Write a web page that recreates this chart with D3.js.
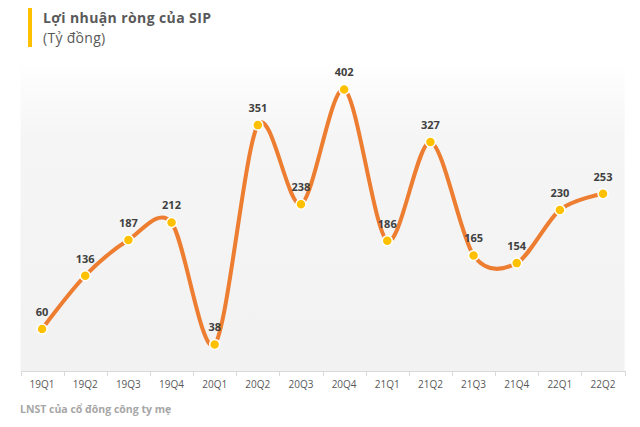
<!DOCTYPE html>
<html><head><meta charset="utf-8">
<script src="https://cdn.jsdelivr.net/npm/d3@7"></script>
<style>body{margin:0;background:#fff}svg{display:block}</style>
</head><body>
<svg id="c" width="640" height="427"></svg>
<script>
const categories = ["19Q1","19Q2","19Q3","19Q4","20Q1","20Q2","20Q3","20Q4","21Q1","21Q2","21Q3","21Q4","22Q1","22Q2"];
const values = [60,136,187,212,38,351,238,402,186,327,165,154,230,253];
const title = "Lợi nhuận ròng của SIP";
const subtitle = "(Tỷ đồng)";
const footer = "LNST của cổ đông công ty mẹ";

const svg = d3.select("#c");
const font = "'Open Sans', 'DejaVu Sans', sans-serif";
const left = 20.5, right = 624.6, yBase = 371;

const defs = svg.append("defs");
const g = defs.append("linearGradient").attr("id","bg").attr("x1",0).attr("y1",0).attr("x2",0).attr("y2",1);
g.append("stop").attr("offset","0%").attr("stop-color","#ffffff");
g.append("stop").attr("offset","25%").attr("stop-color","#f5f5f5");
g.append("stop").attr("offset","100%").attr("stop-color","#f2f2f2");

svg.append("rect").attr("x",left).attr("y",60).attr("width",right-left).attr("height",yBase-60).attr("fill","url(#bg)");

const x = d3.scaleBand().domain(categories).range([left,right]);
const y = d3.scaleLinear().domain([0,450]).range([yBase,yBase-0.7005*450]);

const ax = svg.append("g").attr("transform",`translate(0,${yBase})`)
  .call(d3.axisBottom(x).tickSize(0).tickPadding(10));
ax.select(".domain").attr("stroke","#d9d9d9");
ax.selectAll("text").attr("font-family",font).attr("font-size",10).attr("fill","#595959");
svg.append("g").selectAll("line").data(categories.concat([null])).join("line")
  .attr("x1",(d,i)=>Math.round(left+i*x.step())+0.5).attr("x2",(d,i)=>Math.round(left+i*x.step())+0.5)
  .attr("y1",yBase).attr("y2",yBase+5).attr("stroke","#d9d9d9");

const cx = d => x(d) + x.bandwidth()/2;
const pts = categories.map((c,i)=>[cx(c), y(values[i])]);

svg.append("path").attr("d", d3.line().curve(d3.curveCardinal.tension(0.1))(pts))
  .attr("fill","none").attr("stroke","#ED7D31").attr("stroke-width",4).attr("stroke-linecap","round");

svg.append("g").selectAll("circle").data(pts).join("circle")
  .attr("cx",d=>d[0]).attr("cy",d=>d[1]).attr("r",5)
  .attr("fill","#FFC000").attr("stroke","#ffffff").attr("stroke-width",1.5);

svg.append("g").selectAll("text").data(values).join("text")
  .attr("x",(d,i)=>cx(categories[i])).attr("y",d=>y(d)-13)
  .attr("text-anchor","middle").attr("font-family",font).attr("font-size",11).attr("font-weight","bold")
  .attr("fill","#404040").text(d=>d);

svg.append("rect").attr("x",28).attr("y",8).attr("width",4).attr("height",39).attr("fill","#FFC000");
svg.append("text").attr("x",43).attr("y",23).attr("font-family",font).attr("font-size",14).attr("font-weight","bold")
  .attr("letter-spacing",0.4).attr("fill","#595959").text(title);
svg.append("text").attr("x",43).attr("y",43).attr("font-family",font).attr("font-size",14)
  .attr("letter-spacing",0.3).attr("fill","#595959").text(subtitle);
svg.append("text").attr("x",20).attr("y",413).attr("font-family",font).attr("font-size",10.5).attr("font-weight","bold")
  .attr("fill","#a6a6a6").text(footer);
</script>
</body></html>
